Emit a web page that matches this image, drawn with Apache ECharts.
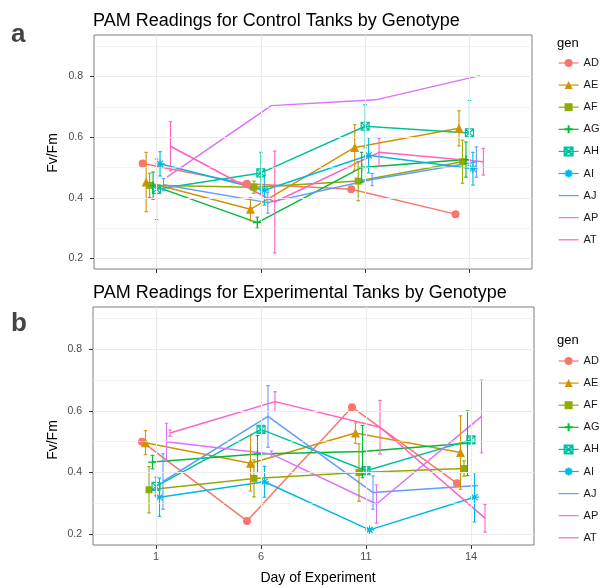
<!DOCTYPE html>
<html>
<head>
<meta charset="utf-8">
<script src="https://cdn.jsdelivr.net/npm/echarts@6/dist/echarts.min.js"></script>
<style>
  html, body { margin: 0; padding: 0; background: #fff; }
  #chart { width: 607px; height: 587px; }
</style>
</head>
<body>
<div id="chart"></div>
<script>
// days on the x axis (discrete)
var days = ['1', '6', '11', '14'];
var genotypes = ['AD', 'AE', 'AF', 'AG', 'AH', 'AI', 'AJ', 'AP', 'AT'];

// control tanks: mean Fv/Fm per genotype (rows) and day (cols)
var ctrlMean = [
  [0.513, 0.446, 0.428, 0.346], // AD
  [0.452, 0.362, 0.566, 0.629], // AE
  [0.441, 0.435, 0.455, 0.519], // AF
  [0.440, 0.318, 0.500, 0.526], // AG
  [0.428, 0.482, 0.636, 0.614], // AH
  [0.512, 0.425, 0.540, 0.496], // AI
  [0.443, 0.384, 0.460, 0.518], // AJ
  [0.468, 0.704, 0.723, 0.803], // AP
  [0.570, 0.386, 0.550, 0.519]  // AT
];
// control tanks: standard error (null = no bar)
var ctrlSE = [
  [null, null, null, null],
  [0.098, 0.038, 0.075, 0.058],
  [0.040, 0.020, 0.065, 0.071],
  [0.045, 0.018, 0.050, 0.058],
  [0.100, 0.068, 0.071, 0.107],
  [0.040, 0.049, 0.058, 0.054],
  [0.020, 0.035, 0.020, 0.050],
  [null, null, null, null],
  [0.081, 0.168, 0.046, 0.044]
];

// experimental tanks
var expMean = [
  [0.500, 0.243, 0.612, 0.365], // AD
  [0.497, 0.430, 0.528, 0.465], // AE
  [0.344, 0.381, 0.400, 0.413], // AF
  [0.434, 0.460, 0.468, 0.495], // AG
  [0.355, 0.540, 0.406, 0.506], // AH
  [0.320, 0.370, 0.214, 0.320], // AI
  [0.371, 0.582, 0.335, 0.358], // AJ
  [0.500, 0.460, 0.298, 0.582], // AP
  [0.528, 0.630, 0.547, 0.252]  // AT
];
var expSE = [
  [null, null, null, null],
  [0.039, 0.090, 0.033, 0.119],
  [0.075, 0.060, 0.093, 0.025],
  [0.022, 0.060, 0.085, 0.105],
  [0.030, 0.010, 0.010, 0.010],
  [0.062, 0.050, null, 0.080],
  [0.090, 0.100, 0.054, null],
  [0.060, 0.010, 0.062, 0.118],
  [0.010, 0.032, 0.087, 0.045]
];

var yTicks = [0.2, 0.4, 0.6, 0.8];
var yMinor = [0.3, 0.5, 0.7, 0.9];

var colors = ['#F8766D', '#D39200', '#93AA00', '#00BA38', '#00C19F', '#00B9E3', '#619CFF', '#DB72FB', '#FF61C3'];
var shapes = [
  {symbol: 'circle', size: 8, fill: true},
  {symbol: 'triangle', size: 9, fill: true},
  {symbol: 'rect', size: 7, fill: true},
  {symbol: 'path://M5,0 L5,10 M0,5 L10,5', size: 9, fill: false},
  {symbol: 'path://M0,0 L10,0 L10,10 L0,10 Z M0,0 L10,10 M10,0 L0,10', size: 8, fill: false},
  {symbol: 'path://M5,0 L5,10 M0,5 L10,5 M1.5,1.5 L8.5,8.5 M8.5,1.5 L1.5,8.5', size: 9, fill: false},
  {symbol: 'none'}, {symbol: 'none'}, {symbol: 'none'}
];

var dodge = 0.3;
function dodgeX(d, g) {
  return d + 1 + (g - (genotypes.length - 1) / 2) * dodge / genotypes.length;
}

var font = 'Liberation Sans, Arial, sans-serif';
var chart = echarts.init(document.getElementById('chart'));

var grids = [
  {left: 94, top: 35, width: 438, height: 234},
  {left: 93, top: 307, width: 441, height: 238}
];

function xAxis(idx, showLabels) {
  return {
    type: 'value', gridIndex: idx, min: 0.4, max: 4.6,
    axisLine: {show: false},
    splitLine: {show: false},
    axisTick: {show: true, length: 4, customValues: [1, 2, 3, 4], lineStyle: {color: '#333'}},
    axisLabel: {
      show: showLabels, customValues: [1, 2, 3, 4], color: '#4D4D4D', fontSize: 11, fontFamily: font, margin: 6,
      formatter: function (v) { return days[Math.round(v) - 1]; }
    }
  };
}
function yAxis(idx) {
  return {
    type: 'value', gridIndex: idx, min: 0.165, max: 0.937,
    axisLine: {show: false},
    splitLine: {show: false},
    axisTick: {show: true, length: 4, customValues: yTicks, lineStyle: {color: '#333'}},
    axisLabel: {
      customValues: yTicks, color: '#4D4D4D', fontSize: 10.5, fontFamily: font, margin: 11,
      formatter: function (v) { return v.toFixed(1); }
    }
  };
}

var series = [];
var panels = [[ctrlMean, ctrlSE], [expMean, expSE]];

// grid lines, drawn behind everything
panels.forEach(function (p, idx) {
  var lines = [];
  yMinor.forEach(function (v) { lines.push({yAxis: v, lineStyle: {width: 0.6}}); });
  yTicks.forEach(function (v) { lines.push({yAxis: v, lineStyle: {width: 1.1}}); });
  [1, 2, 3, 4].forEach(function (v) { lines.push({xAxis: v, lineStyle: {width: 1.1}}); });
  series.push({
    type: 'line', xAxisIndex: idx, yAxisIndex: idx, data: [], silent: true, z: 0,
    markLine: {
      silent: true, symbol: 'none', label: {show: false}, animation: false,
      lineStyle: {color: '#EBEBEB', type: 'solid'}, data: lines
    }
  });
});

panels.forEach(function (p, idx) {
  var means = p[0];
  genotypes.forEach(function (name, g) {
    var sh = shapes[g];
    series.push({
      name: name, type: 'line', xAxisIndex: idx, yAxisIndex: idx,
      data: means[g].map(function (v, d) { return [dodgeX(d, g), v]; }),
      symbol: sh.symbol, symbolSize: sh.size || 0, showSymbol: sh.symbol !== 'none',
      lineStyle: {color: colors[g], width: 1.5},
      itemStyle: sh.fill ? {color: colors[g]} : {color: 'rgba(0,0,0,0)', borderColor: colors[g], borderWidth: 1.2},
      emphasis: {disabled: true}, animation: false, z: 3
    });
  });
});

panels.forEach(function (p, idx) {
  var means = p[0], se = p[1];
  genotypes.forEach(function (name, g) {
    var bars = [];
    means[g].forEach(function (v, d) {
      if (se[g][d] != null) bars.push([dodgeX(d, g), v - se[g][d], v + se[g][d]]);
    });
    series.push({
      name: name + ' se', type: 'custom', xAxisIndex: idx, yAxisIndex: idx,
      data: bars, encode: {x: 0, y: [1, 2]}, silent: true, animation: false, z: 4,
      renderItem: function (params, api) {
        var x = api.value(0);
        var lo = api.coord([x, api.value(1)]);
        var hi = api.coord([x, api.value(2)]);
        var cap = api.coord([x + 0.017, api.value(1)])[0] - lo[0];
        var st = {stroke: colors[g], lineWidth: 1.1};
        return {type: 'group', children: [
          {type: 'line', shape: {x1: hi[0], y1: hi[1], x2: lo[0], y2: lo[1]}, style: st},
          {type: 'line', shape: {x1: hi[0] - cap, y1: hi[1], x2: hi[0] + cap, y2: hi[1]}, style: st},
          {type: 'line', shape: {x1: lo[0] - cap, y1: lo[1], x2: lo[0] + cap, y2: lo[1]}, style: st}
        ]};
      }
    });
  });
});

// legend: line-only genotypes get no marker
var legendData = genotypes.map(function (name, g) {
  return shapes[g].symbol === 'none'
    ? {name: name, itemStyle: {color: 'rgba(0,0,0,0)', borderWidth: 0}}
    : {name: name};
});
function legend(top) {
  return {
    data: legendData, orient: 'vertical', left: 553, top: top,
    itemWidth: 20, itemHeight: 10, itemGap: 11.1, selectedMode: false,
    lineStyle: {width: 1.2},
    textStyle: {fontSize: 11, color: '#1a1a1a', fontFamily: font}
  };
}

chart.setOption({
  animation: false,
  backgroundColor: '#fff',
  grid: grids.map(function (g) {
    return Object.assign({show: true, borderColor: '#7f7f7f', borderWidth: 1, backgroundColor: 'transparent'}, g);
  }),
  xAxis: [xAxis(0, false), xAxis(1, true)],
  yAxis: [yAxis(0), yAxis(1)],
  legend: [legend(52.5), legend(350.5)],
  title: [
    {text: 'PAM Readings for Control Tanks by Genotype', left: 88, top: 7, textStyle: {fontSize: 18, fontWeight: 'normal', color: '#000', fontFamily: font}},
    {text: 'PAM Readings for Experimental Tanks by Genotype', left: 88, top: 279, textStyle: {fontSize: 18, fontWeight: 'normal', color: '#000', fontFamily: font}},
    {text: 'a', left: 6, top: 17, textStyle: {fontSize: 26, fontWeight: 'bold', color: '#444', fontFamily: font}},
    {text: 'b', left: 6, top: 306, textStyle: {fontSize: 26, fontWeight: 'bold', color: '#444', fontFamily: font}},
    {text: 'gen', left: 552, top: 32, textStyle: {fontSize: 13, fontWeight: 'normal', color: '#000', fontFamily: font}},
    {text: 'gen', left: 552, top: 329, textStyle: {fontSize: 13, fontWeight: 'normal', color: '#000', fontFamily: font}},
    {text: 'Day of Experiment', left: 313, top: 566, textAlign: 'center', textStyle: {fontSize: 14, fontWeight: 'normal', color: '#000', fontFamily: font}}
  ],
  graphic: [
    {type: 'text', x: 53, y: 153, rotation: Math.PI / 2, style: {text: 'Fv/Fm', font: '14px ' + font, fill: '#000', align: 'center', verticalAlign: 'middle'}},
    {type: 'text', x: 53, y: 440, rotation: Math.PI / 2, style: {text: 'Fv/Fm', font: '14px ' + font, fill: '#000', align: 'center', verticalAlign: 'middle'}}
  ],
  series: series
});
</script>
</body>
</html>
